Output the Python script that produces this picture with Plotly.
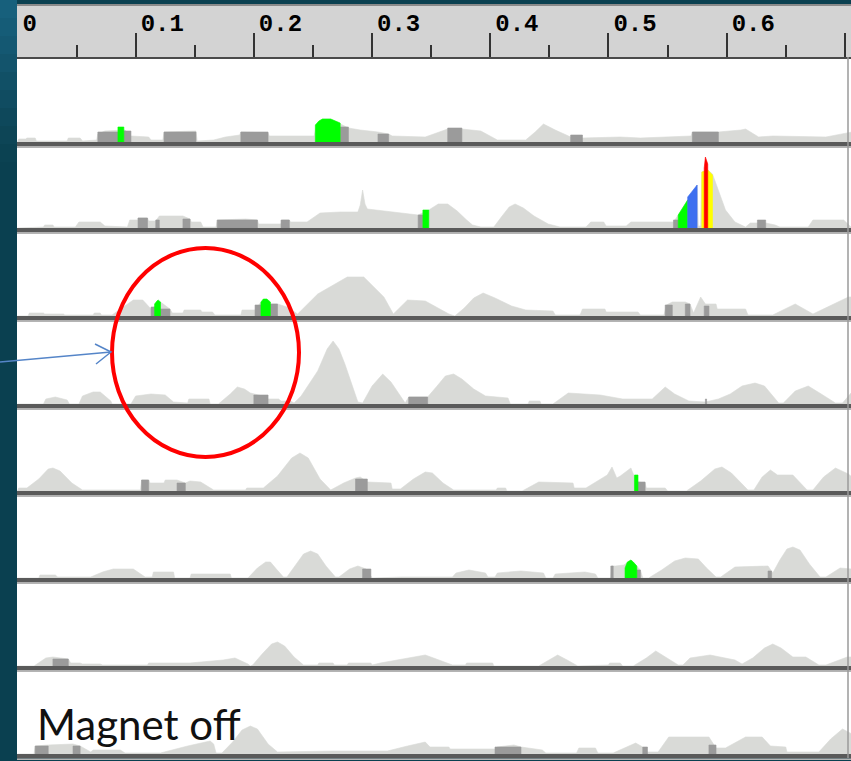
import plotly.graph_objects as go

# ---------------- data ----------------
tick_vals = [0.0, 0.1, 0.2, 0.3, 0.4, 0.5, 0.6, 0.7]
tick_labels = ["0", "0.1", "0.2", "0.3", "0.4", "0.5", "0.6", ""]
minor_vals = [0.05, 0.15, 0.25, 0.35, 0.45, 0.55, 0.65]

# light grey profile of each trace: (position, intensity)
row1_profile = [(0.000,0),(0.001,3),(0.007,3),(0.008,4),(0.015,4),(0.016,1),(0.042,1),(0.043,4),(0.053,4),(0.055,1),
    (0.067,2),(0.068,8),(0.074,11),(0.085,12),(0.091,12),(0.096,6),(0.111,5),(0.113,2),(0.123,2),(0.124,10),
    (0.151,11),(0.152,1),(0.166,2),(0.176,5),(0.188,7),(0.189,10),(0.212,9),(0.213,6),(0.251,6),(0.253,17),
    (0.258,23),(0.265,23),(0.273,18),(0.280,14),(0.290,12),(0.305,10),(0.314,8),(0.317,6),(0.345,5),(0.364,13),
    (0.376,13),(0.392,11),(0.406,2),(0.430,2),(0.438,10),(0.445,18),(0.455,12),(0.468,5),(0.478,4),(0.510,5),
    (0.527,4),(0.570,6),(0.571,10),(0.593,10),(0.612,12),(0.616,13),(0.627,5),(0.639,6),(0.684,5),(0.696,8),(0.706,10)]
row2_profile = [(0.000,0),(0.022,1),(0.023,3),(0.030,3),(0.031,1),(0.049,1),(0.052,6),(0.070,6),(0.074,2),(0.093,1),
    (0.095,8),(0.102,8),(0.102,10),(0.110,10),(0.111,7),(0.117,7),(0.120,12),(0.140,12),(0.146,9),(0.147,6),
    (0.155,6),(0.157,1),(0.168,1),(0.169,8),(0.193,9),(0.203,8),(0.204,4),(0.223,4),(0.224,8),(0.230,8),
    (0.231,6),(0.245,6),(0.256,15),(0.273,16),(0.288,16),(0.290,23),(0.292,38),(0.294,24),(0.296,19),(0.316,16),
    (0.339,13),(0.348,18),(0.356,24),(0.364,24),(0.372,17),(0.380,8),(0.385,3),(0.392,1),(0.403,1),(0.410,12),
    (0.416,21),(0.421,24),(0.428,20),(0.437,12),(0.449,4),(0.459,1),(0.481,1),(0.485,6),(0.496,6),(0.498,2),
    (0.515,2),(0.519,6),(0.555,6),(0.559,13),(0.575,43),(0.576,2),(0.578,2),(0.579,56),(0.584,58),(0.588,54),
    (0.593,38),(0.599,18),(0.607,6),(0.616,1),(0.620,5),(0.633,5),(0.641,3),(0.645,1),(0.669,1),(0.673,8),
    (0.699,8),(0.706,0)]
row3_profile = [(0.000,0),(0.009,0),(0.010,3),(0.022,3),(0.023,2),(0.039,2),(0.040,1),(0.064,1),(0.065,3),(0.070,3),
    (0.071,1),(0.080,1),(0.098,16),(0.106,16),(0.113,7),(0.121,14),(0.129,7),(0.131,3),(0.140,3),(0.141,6),
    (0.155,6),(0.156,4),(0.165,4),(0.167,1),(0.189,1),(0.190,6),(0.201,6),(0.206,14),(0.214,12),(0.220,12),
    (0.228,9),(0.237,2),(0.254,22),(0.279,39),(0.293,39),(0.310,19),(0.318,2),(0.330,16),(0.345,15),(0.365,2),
    (0.370,0),(0.378,8),(0.386,18),(0.394,23),(0.404,18),(0.418,10),(0.430,6),(0.453,5),(0.455,1),(0.476,1),
    (0.478,7),(0.497,7),(0.498,4),(0.525,4),(0.527,1),(0.547,1),(0.549,11),(0.554,14),(0.565,14),(0.569,12),
    (0.572,3),(0.578,19),(0.582,12),(0.591,12),(0.592,7),(0.616,7),(0.618,1),(0.639,1),(0.658,12),(0.673,2),
    (0.703,19),(0.706,19)]
row4_profile = [(0.000,0),(0.022,0),(0.024,5),(0.032,7),(0.042,4),(0.044,0),(0.052,0),(0.055,8),(0.064,12),(0.070,12),
    (0.079,3),(0.080,0),(0.096,0),(0.100,8),(0.113,10),(0.125,9),(0.132,2),(0.144,1),(0.145,5),(0.162,5),
    (0.163,0),(0.170,0),(0.180,10),(0.186,17),(0.192,15),(0.197,11),(0.207,8),(0.212,5),(0.221,5),(0.223,3),
    (0.231,3),(0.234,1),(0.240,8),(0.254,33),(0.262,55),(0.267,63),(0.272,55),(0.277,40),(0.288,2),(0.292,1),
    (0.300,18),(0.309,30),(0.316,22),(0.328,1),(0.331,7),(0.347,7),(0.355,18),(0.362,28),(0.369,30),(0.376,25),
    (0.386,15),(0.396,8),(0.415,6),(0.417,0),(0.432,0),(0.433,3),(0.442,3),(0.443,0),(0.453,0),(0.466,11),
    (0.493,9),(0.512,5),(0.537,5),(0.543,12),(0.548,17),(0.556,10),(0.568,3),(0.582,2),(0.593,5),(0.603,10),
    (0.613,18),(0.624,21),(0.632,18),(0.644,1),(0.648,1),(0.658,13),(0.669,18),(0.680,10),(0.692,1),(0.698,1),
    (0.706,12)]
row5_profile = [(0.000,0),(0.001,3),(0.008,3),(0.018,12),(0.026,22),(0.030,23),(0.036,20),(0.046,8),(0.055,1),(0.104,1),
    (0.105,11),(0.111,11),(0.112,8),(0.124,8),(0.125,11),(0.135,11),(0.142,8),(0.146,10),(0.155,9),(0.166,1),
    (0.193,1),(0.194,3),(0.208,3),(0.220,15),(0.232,33),(0.239,38),(0.246,33),(0.256,12),(0.265,1),(0.276,8),
    (0.286,13),(0.290,14),(0.296,9),(0.316,8),(0.317,2),(0.324,2),(0.335,12),(0.345,19),(0.351,18),(0.360,8),
    (0.369,1),(0.405,1),(0.406,3),(0.413,3),(0.414,0),(0.427,0),(0.441,9),(0.470,8),(0.471,3),(0.481,3),
    (0.499,16),(0.503,24),(0.507,13),(0.510,15),(0.519,23),(0.522,14),(0.525,9),(0.531,8),(0.532,3),(0.548,3),
    (0.550,0),(0.566,0),(0.578,10),(0.590,22),(0.596,24),(0.604,18),(0.618,1),(0.623,1),(0.630,14),(0.637,21),
    (0.643,16),(0.656,16),(0.668,1),(0.673,1),(0.682,14),(0.692,23),(0.703,17),(0.706,14)]
row6_profile = [(0.000,0),(0.018,0),(0.019,3),(0.032,3),(0.034,1),(0.062,1),(0.072,6),(0.081,9),(0.098,9),(0.108,1),
    (0.114,1),(0.115,6),(0.132,6),(0.133,0),(0.146,0),(0.147,4),(0.180,4),(0.181,0),(0.195,0),(0.203,10),
    (0.210,16),(0.214,16),(0.219,9),(0.225,1),(0.228,1),(0.236,14),(0.242,24),(0.248,27),(0.254,24),(0.261,12),
    (0.269,1),(0.272,1),(0.281,9),(0.288,12),(0.295,9),(0.299,2),(0.300,0),(0.325,1),(0.368,1),(0.371,5),
    (0.382,8),(0.396,5),(0.398,1),(0.404,1),(0.406,5),(0.426,7),(0.445,5),(0.447,0),(0.453,0),(0.455,4),
    (0.480,6),(0.489,4),(0.491,0),(0.502,0),(0.503,12),(0.506,12),(0.513,13),(0.519,18),(0.524,12),(0.527,8),
    (0.529,0),(0.534,0),(0.545,8),(0.556,17),(0.565,20),(0.576,19),(0.583,10),(0.591,1),(0.595,1),(0.607,11),
    (0.635,12),(0.639,5),(0.645,18),(0.651,29),(0.656,31),(0.662,28),(0.670,14),(0.679,1),(0.684,1),(0.696,10),
    (0.706,9)]
row7_profile = [(0.000,0),(0.014,0),(0.024,8),(0.030,9),(0.043,7),(0.045,3),(0.053,3),(0.055,2),(0.070,2),(0.072,1),
    (0.110,1),(0.111,3),(0.146,3),(0.174,6),(0.184,8),(0.195,2),(0.197,0),(0.199,1),(0.207,12),(0.215,22),
    (0.220,24),(0.226,20),(0.234,9),(0.242,1),(0.254,1),(0.255,3),(0.267,3),(0.268,1),(0.279,1),(0.280,3),
    (0.299,3),(0.300,1),(0.307,3),(0.325,7),(0.345,11),(0.352,8),(0.368,1),(0.379,1),(0.380,3),(0.402,3),
    (0.403,0),(0.441,0),(0.450,6),(0.457,11),(0.465,6),(0.474,0),(0.500,1),(0.501,3),(0.510,3),(0.512,0),
    (0.521,0),(0.532,8),(0.540,15),(0.549,8),(0.559,1),(0.563,1),(0.569,8),(0.586,11),(0.607,6),(0.613,2),
    (0.622,8),(0.632,18),(0.639,22),(0.646,18),(0.656,9),(0.667,9),(0.678,1),(0.684,1),(0.702,9),(0.706,9)]
row8_profile = [(0.000,0),(0.014,0),(0.015,8),(0.026,9),(0.047,10),(0.053,8),(0.062,2),(0.064,4),(0.087,4),(0.091,1),
    (0.121,1),(0.144,8),(0.163,13),(0.166,10),(0.168,1),(0.173,1),(0.182,12),(0.190,24),(0.197,28),(0.203,25),
    (0.212,10),(0.220,2),(0.267,3),(0.313,3),(0.330,8),(0.345,12),(0.349,7),(0.365,7),(0.366,5),(0.404,5),
    (0.406,7),(0.420,9),(0.426,7),(0.444,4),(0.447,1),(0.473,1),(0.475,6),(0.489,6),(0.491,1),(0.504,1),
    (0.523,11),(0.529,7),(0.533,2),(0.542,2),(0.551,17),(0.585,17),(0.591,6),(0.599,6),(0.616,17),(0.630,17),
    (0.637,8),(0.650,7),(0.651,2),(0.678,2),(0.688,15),(0.698,25),(0.706,20)]

# dark grey integrated blocks: (start, end, intensity)
row1_dark = [(0.068,0.085,10),(0.090,0.096,11),(0.124,0.151,10),(0.189,0.212,10),(0.273,0.280,15),
             (0.305,0.314,8),(0.364,0.376,14),(0.468,0.478,7),(0.571,0.593,10)]
row2_dark = [(0.102,0.110,10),(0.117,0.120,8),(0.140,0.146,9),(0.169,0.203,8),(0.223,0.230,8),
             (0.339,0.343,13),(0.555,0.559,8),(0.626,0.633,8)]
row3_dark = [(0.113,0.116,9),(0.121,0.129,7),(0.201,0.206,11),(0.214,0.220,12),(0.548,0.554,11),
             (0.565,0.569,12),(0.581,0.585,10)]
row4_dark = [(0.200,0.212,9),(0.331,0.347,7),(0.582,0.583,5)]
row5_dark = [(0.105,0.111,11),(0.135,0.142,8),(0.286,0.296,12),(0.525,0.531,9)]
row6_dark = [(0.292,0.299,9),(0.502,0.504,12),(0.524,0.527,8),(0.635,0.638,7)]
row7_dark = [(0.030,0.043,7)]
row8_dark = [(0.015,0.026,8),(0.047,0.053,8),(0.404,0.426,7),(0.529,0.533,7),(0.585,0.591,9)]

# coloured (identified) peaks: outlines (position, intensity)
row1_green = [[(0.085,0),(0.085,15),(0.090,15),(0.090,0)],
              [(0.252,0),(0.252,17),(0.255,21),(0.258,23),(0.265,23),(0.269,21),(0.273,19),(0.273,0)]]
row2_green = [[(0.343,0),(0.343,18),(0.348,18),(0.348,0)],
              [(0.559,0),(0.559,13),(0.567,28),(0.567,0)]]
row2_blue = [[(0.567,0),(0.567,31),(0.575,43),(0.575,0)]]
row2_yellow = [[(0.579,0),(0.579,56),(0.584,58),(0.588,53),(0.588,0)]]
row2_red = [[(0.581,0),(0.581,60),(0.582,71),(0.584,64),(0.584,0)]]
row3_green = [[(0.116,0),(0.116,12),(0.118,15),(0.119,16),(0.121,14),(0.121,0)],
              [(0.206,0),(0.206,14),(0.208,17),(0.211,17),(0.214,14),(0.214,0)]]
row5_green = [[(0.522,0),(0.522,16),(0.525,16),(0.525,0)]]
row6_green = [[(0.514,0),(0.514,10),(0.516,16),(0.519,18),(0.521,16),(0.524,12),(0.524,0)]]

annotation_text = "Magnet off"

# ---------------- styling / layout ----------------
W, H = 851, 761
M_L, M_T, M_B = 17, 5, 3
PLOT_TOP, PLOT_BOT = M_T, H - M_B
PLOT_H = PLOT_BOT - PLOT_TOP
PLOT_W = W - M_L
HEADER_BOTTOM = 57
row_bottoms = [142, 228, 316, 404, 491, 578, 666, 754]
row_tops = [HEADER_BOTTOM] + row_bottoms[:-1]

LIGHT = "#d9dad7"
DARK = "#9b9b9b"
GREEN = "#00ff00"
BLUE = "#3d6ff0"
YELLOW = "#ffff00"
RED = "#ff0000"


def py(px):
    return (PLOT_BOT - px) / PLOT_H


def pxx(px):
    return (px - M_L) / PLOT_W


rows = [
    (row1_profile, row1_dark, [(GREEN, row1_green)]),
    (row2_profile, row2_dark, [(GREEN, row2_green), (BLUE, row2_blue), (YELLOW, row2_yellow), (RED, row2_red)]),
    (row3_profile, row3_dark, [(GREEN, row3_green)]),
    (row4_profile, row4_dark, []),
    (row5_profile, row5_dark, [(GREEN, row5_green)]),
    (row6_profile, row6_dark, [(GREEN, row6_green)]),
    (row7_profile, row7_dark, []),
    (row8_profile, row8_dark, []),
]


def filled(x, y, yname, color, fill):
    return go.Scatter(x=x, y=y, xaxis="x", yaxis=yname, mode="lines",
                      line=dict(width=0.6, color=color), fill=fill, fillcolor=color,
                      showlegend=False, hoverinfo="skip")


fig = go.Figure()
fig.add_trace(go.Scatter(x=[], y=[], xaxis="x", yaxis="y", showlegend=False))

layout_axes = {}
shapes = []
# left background: soft vertical fade from a bluish glow at the top to dark teal
glow = ["#17607c", "#155c77", "#145872", "#13546c", "#115066", "#104c61", "#0e485b", "#0d4556", "#0b4252"]
step = 18
for k, col in enumerate(glow):
    shapes.append(dict(type="rect", xref="paper", yref="paper", x0=pxx(0), x1=0,
                       y0=py((k + 1) * step), y1=py(k * step) if k else py(-5),
                       fillcolor=col, line=dict(width=0), layer="below"))

for i, (profile, dark, coloured) in enumerate(rows):
    yname = f"y{i + 2}"
    px_, py_ = zip(*profile)
    fig.add_trace(filled(list(px_), list(py_), yname, LIGHT, "tozeroy"))
    bx, by = [], []
    for a, b, h in dark:
        bx += [a, a, b, b, a, None]
        by += [0, h, h, 0, 0, None]
    if bx:
        fig.add_trace(filled(bx, by, yname, DARK, "toself"))
    for color, polys in coloured:
        for poly in polys:
            gx, gy = zip(*poly)
            fig.add_trace(filled(list(gx), list(gy), yname, color, "toself"))
    top, bot = row_tops[i], row_bottoms[i]
    layout_axes[f"yaxis{i + 2}"] = dict(domain=[py(bot), py(top)], range=[0, bot - top], visible=False,
                                         anchor="x", fixedrange=True)
    shapes.append(dict(type="rect", xref="paper", yref="paper", x0=0, x1=1, y0=py(bot + 4.5), y1=py(bot),
                       fillcolor="#5a5a5a", line=dict(width=0)))
    shapes.append(dict(type="rect", xref="paper", yref="paper", x0=0, x1=1, y0=py(bot + 6), y1=py(bot + 4.5),
                       fillcolor="#b4b4b4", line=dict(width=0)))

# header band
shapes.insert(0, dict(type="rect", xref="paper", yref="y domain", x0=0, x1=1, y0=0, y1=1,
                      fillcolor="#d3d3d3", line=dict(width=0), layer="below"))
shapes.append(dict(type="line", xref="paper", yref="paper", x0=0, x1=1, y0=1, y1=1,
                   line=dict(color="#8a8a8a", width=2)))
# right panel border
shapes.append(dict(type="line", xref="paper", yref="paper", x0=pxx(848), x1=pxx(848), y0=0, y1=py(HEADER_BOTTOM),
                   line=dict(color="#9a9a9a", width=1.5)))
# red circle
shapes.append(dict(type="circle", xref="paper", yref="paper", x0=pxx(112), x1=pxx(299), y0=py(457), y1=py(248),
                   line=dict(color=RED, width=4)))
# blue arrow
arrow_col = "#5585c8"
shapes.append(dict(type="path", xref="paper", yref="paper",
                   path=f"M {pxx(0)},{py(362)} L {pxx(111)},{py(352)}", line=dict(color=arrow_col, width=1.5)))
shapes.append(dict(type="path", xref="paper", yref="paper",
                   path=f"M {pxx(95)},{py(344)} L {pxx(111)},{py(352)} L {pxx(96)},{py(364)}",
                   line=dict(color=arrow_col, width=1.5)))

fig.update_layout(
    width=W, height=H, margin=dict(l=M_L, r=0, t=M_T, b=M_B, pad=0),
    paper_bgcolor="#0a4050", plot_bgcolor="white", showlegend=False,
    xaxis=dict(domain=[0, 1], range=[-0.0004, PLOT_W / 1182 - 0.0004], anchor="y", side="bottom",
               showgrid=False, zeroline=False, showline=True, linecolor="#4a4a4a", linewidth=2,
               tickmode="array", tickvals=tick_vals, ticktext=tick_labels,
               ticks="inside", ticklen=24, tickwidth=2, tickcolor="#333333",
               ticklabelposition="inside right", ticklabelstandoff=20, ticklabelshift=3,
               tickfont=dict(family="Liberation Mono", size=24, color="black", weight="bold"),
               minor=dict(tickmode="array", tickvals=minor_vals, ticks="inside", ticklen=12,
                          tickwidth=2, tickcolor="#333333", showgrid=False),
               fixedrange=True),
    yaxis=dict(domain=[py(HEADER_BOTTOM), 1], range=[0, 1], visible=False, fixedrange=True),
    shapes=shapes,
    annotations=[dict(text=annotation_text, xref="paper", yref="paper", x=pxx(35), y=py(724),
                      xanchor="left", yanchor="middle", showarrow=False,
                      font=dict(family="Lato", size=42, color="#111111"))],
    **layout_axes,
)

fig.write_html("out.html", config={"displayModeBar": False},
               post_script="document.body.style.margin='0';document.body.style.padding='0';")
